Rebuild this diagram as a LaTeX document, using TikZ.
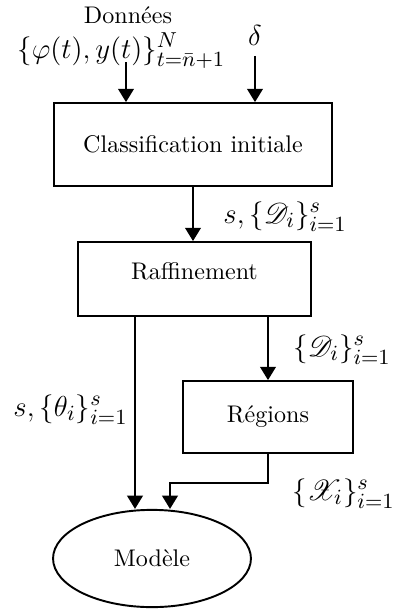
\documentclass[tikz,border=0pt]{standalone}
\usepackage{amsmath}
\usepackage{amssymb}
\usepackage{mathrsfs}
\usetikzlibrary{arrows.meta,shapes.geometric}

\begin{document}
\begin{tikzpicture}[x=0.0146cm, y=-0.0146cm,
    block/.style={draw, thick, rectangle, inner sep=0pt},
    flow/.style={thick, -{Triangle[width=6.5pt,length=5.5pt]}},
    sig/.style={anchor=base west, inner sep=0pt, font=\fontsize{12.5}{15}\selectfont}]
\useasboundingbox (0,0) rectangle (396,610);

%Inputs
\node (donnees) at (128,15) {Donn\'ees};
\node[sig] (data) at (17,58) {$\{\varphi(t),y(t)\}_{t=\bar{n}+1}^{N}$};
\coordinate (datain) at (126,62);
\node[font=\fontsize{12.5}{15}\selectfont] (delta) at (255,35) {$\delta$};

%Blocks
\node[block, minimum width=4.06cm, minimum height=1.21cm] (cls) at (193,144.5) {Classification initiale};
\node[block, minimum width=3.40cm, minimum height=1.08cm, text depth=6.6pt] (raf) at (194.5,279) {Raffinement};
\node[block, minimum width=2.48cm, minimum height=1.05cm] (reg) at (268,417) {R\'egions};
\node[draw, thick, ellipse, inner sep=0pt, minimum width=2.89cm, minimum height=1.42cm] (mod) at (152,558.5) {Mod\`ele};

%Connectors
\coordinate (left) at (135,0);
\coordinate (bend) at (170,483);
\draw [flow] (datain) -- (datain |- cls.north);
\draw [flow, shorten <=1pt] (delta.south) -- (delta.south |- cls.north);
\draw [flow] (cls.south) -- (cls.south |- raf.north);
\draw [flow] (reg.north |- raf.south) -- (reg.north);
\draw [flow] (left |- raf.south) -- (left |- mod.north);
\draw [flow] (reg.south) |- (bend) -- (bend |- mod.north);

%Labels
\node[sig] (lbl1) at (223,223) {$s,\{\mathscr{D}_i\}_{i=1}^{s}$};
\node[sig] (lbl2) at (293,356) {$\{\mathscr{D}_i\}_{i=1}^{s}$};
\node[sig] (lbl3) at (13,416) {$s,\{\theta_i\}_{i=1}^{s}$};
\node[sig] (lbl4) at (292,500) {$\{\mathscr{X}_i\}_{i=1}^{s}$};
\end{tikzpicture}
\end{document}
